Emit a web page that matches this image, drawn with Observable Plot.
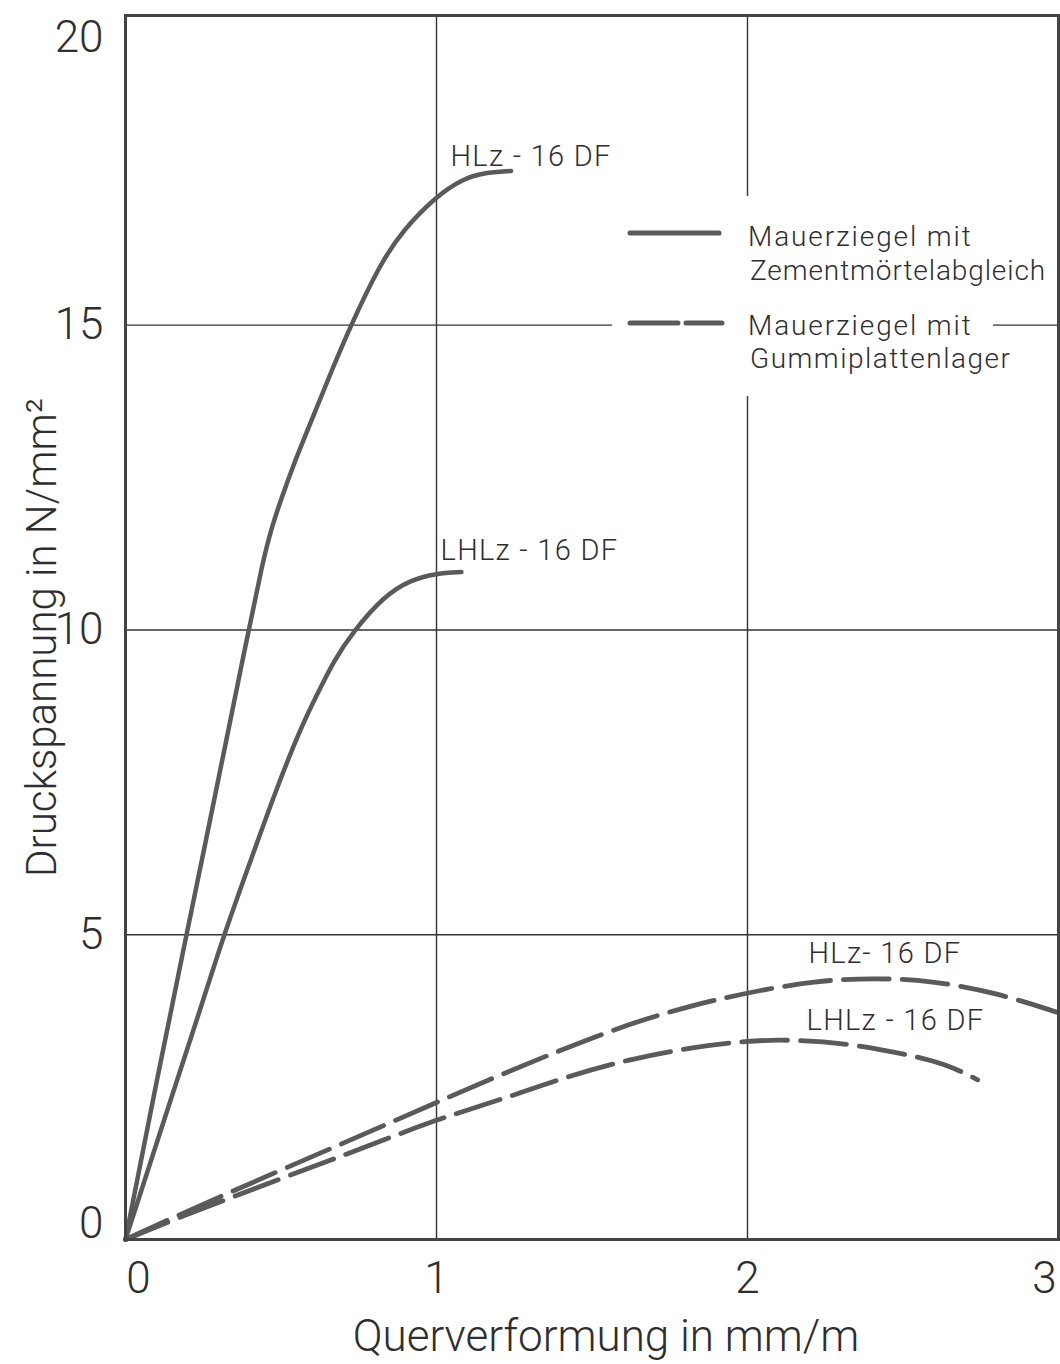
<!DOCTYPE html>
<html>
<head>
<meta charset="utf-8">
<script src="https://cdn.jsdelivr.net/npm/d3@7"></script>
<script src="https://cdn.jsdelivr.net/npm/@observablehq/plot@0.6"></script>
<style>
  html, body { margin: 0; padding: 0; background: #fff; }
  #wrap { position: relative; width: 1060px; height: 1364px; font-family: Roboto, "DejaVu Sans", sans-serif; color: #2e2e2e; }
  #legend { position: absolute; left: 612px; top: 196px; width: 381px; height: 200px; background: #fff; }
  #legend .t { position: absolute; font-size: 28px; letter-spacing: 1.9px; white-space: nowrap; line-height: 1; font-weight: 300; }
  #legend svg { position: absolute; left: 0; top: 0; overflow: visible; }
</style>
</head>
<body>
<div id="wrap"></div>
<script>
// ---- data ----
const hlzSolidX = [0, 0.10, 0.196, 0.257, 0.396, 0.44, 0.466, 0.504, 0.541, 0.584, 0.649, 0.72, 0.82, 0.894, 1.0, 1.085, 1.15, 1.24];
const hlzSolidY = [0, 2.6, 5.0, 6.5, 10.0, 11.08, 11.62, 12.2, 12.72, 13.26, 14.08, 14.95, 16.02, 16.57, 17.12, 17.40, 17.50, 17.53];

const lhlzSolidX = [0, 0.12, 0.239, 0.313, 0.402, 0.482, 0.563, 0.617, 0.669, 0.733, 0.83, 0.915, 1.0, 1.08];
const lhlzSolidY = [0, 1.9, 3.75, 4.95, 6.21, 7.35, 8.39, 8.95, 9.49, 9.98, 10.55, 10.82, 10.93, 10.95];

const hlzDashX = [0, 0.2, 0.5, 0.8, 1.0, 1.2, 1.41, 1.62, 1.82, 2.0, 2.22, 2.41, 2.59, 2.8, 3.0];
const hlzDashY = [0, 0.47, 1.14, 1.8, 2.25, 2.69, 3.13, 3.54, 3.84, 4.05, 4.25, 4.29, 4.25, 4.05, 3.72];

const lhlzDashX = [0, 0.2, 0.5, 0.8, 1.0, 1.2, 1.41, 1.62, 1.83, 2.0, 2.12, 2.31, 2.51, 2.64, 2.74];
const lhlzDashY = [0, 0.42, 1.0, 1.57, 1.97, 2.28, 2.66, 2.96, 3.16, 3.26, 3.28, 3.23, 3.04, 2.88, 2.62];

const xTicks = [0, 1, 2, 3];
const yTicks = [0, 5, 10, 15, 20];
const xGrid = [1, 2];
const yGrid = [5, 10, 15];

const curveLabels = ["HLz - 16 DF", "LHLz - 16 DF", "HLz- 16 DF", "LHLz - 16 DF"];
const curveLabelX = [1.045, 1.013, 2.196, 2.19];
const curveLabelY = [17.77, 11.3, 4.69, 3.59];

const xTitle = "Querverformung in mm/m";
const yTitle = "Druckspannung in N/mm²";
const legendLabels = [["Mauerziegel mit", "Zementmörtelabgleich"], ["Mauerziegel  mit", "Gummiplattenlager"]];

// ---- build ----
const toPts = (xs, ys) => xs.map((x, i) => ({x, y: ys[i]}));
const solid = [toPts(hlzSolidX, hlzSolidY), toPts(lhlzSolidX, lhlzSolidY)];
const dashed = [toPts(hlzDashX, hlzDashY), toPts(lhlzDashX, lhlzDashY)];
const labels = curveLabels.map((t, i) => ({t, x: curveLabelX[i], y: curveLabelY[i]}));

const lineColor = "#5a5a5a";
const inkColor = "#2e2e2e";
const font = "Roboto, 'DejaVu Sans', sans-serif";
const tickStyle = {fontSize: 44, fontWeight: 300, fill: inkColor};

const marks = [
  Plot.gridX(xGrid, {stroke: "#333", strokeOpacity: 1, strokeWidth: 1.4}),
  Plot.gridY(yGrid, {stroke: "#333", strokeOpacity: 1, strokeWidth: 1.4}),
  ...solid.map(d => Plot.line(d, {x: "x", y: "y", curve: "basis", stroke: lineColor, strokeWidth: 4.5, strokeLinecap: "round"})),
  ...dashed.map(d => Plot.line(d, {x: "x", y: "y", curve: "basis", stroke: lineColor, strokeWidth: 4.8, strokeLinecap: "round", strokeDasharray: "46,13"})),
  Plot.frame({stroke: "#444", strokeWidth: 3}),
  Plot.text(labels, {x: "x", y: "y", text: "t", textAnchor: "start", fontSize: 29, fontWeight: 300, fill: inkColor}),
  Plot.text(xTicks.filter(d => d > 0 && d < 3), {x: d => d, frameAnchor: "bottom", dy: 53, ...tickStyle}),
  Plot.text(xTicks.filter(d => d === 0), {x: d => d, frameAnchor: "bottom", dy: 53, dx: 13, ...tickStyle}),
  Plot.text(xTicks.filter(d => d === 3), {x: d => d, frameAnchor: "bottom", dy: 53, dx: -14, ...tickStyle}),
  Plot.text(yTicks.filter(d => d > 0 && d < 20), {y: d => d, frameAnchor: "left", dx: -22, textAnchor: "end", ...tickStyle}),
  Plot.text(yTicks.filter(d => d === 20), {y: d => d, frameAnchor: "left", dx: -22, dy: 18, textAnchor: "end", ...tickStyle}),
  Plot.text(yTicks.filter(d => d === 0), {y: d => d, frameAnchor: "left", dx: -22, dy: -16, textAnchor: "end", ...tickStyle}),
  Plot.text([xTitle], {frameAnchor: "bottom", dx: 14, dy: 111, fontSize: 44, fontWeight: 300, fill: inkColor}),
  Plot.text([yTitle], {frameAnchor: "left", textAnchor: "middle", dx: -83, dy: 10, rotate: -90, fontSize: 42, fontWeight: 300, fill: inkColor})
];

const chart = Plot.plot({
  width: 1060,
  height: 1364,
  marginLeft: 125,
  marginRight: 2,
  marginTop: 15,
  marginBottom: 125,
  x: {domain: [0, 3], axis: null},
  y: {domain: [0, 20.08], axis: null},
  style: {fontFamily: font, background: "#fff", overflow: "visible"},
  marks
});

// slightly wider letter spacing on the curve labels, as in the reference lettering
d3.select(chart).selectAll("text").filter(function() { return curveLabels.includes(this.textContent); })
  .style("letter-spacing", "1.3px");

const wrap = document.getElementById("wrap");
wrap.appendChild(chart);

// legend (knocks out the grid behind it, as in the reference)
const lg = document.createElement("div");
lg.id = "legend";
lg.innerHTML = `
  <svg width="381" height="200">
    <line x1="18" y1="37" x2="107" y2="37" stroke="${lineColor}" stroke-width="5" stroke-linecap="round"/>
    <line x1="18" y1="127" x2="110" y2="127" stroke="${lineColor}" stroke-width="5" stroke-linecap="round" stroke-dasharray="48,8"/>
  </svg>
  <div class="t" style="left:136px; top:27px;">${legendLabels[0][0]}</div>
  <div class="t" style="left:138px; top:61px; letter-spacing:0.9px;">${legendLabels[0][1]}</div>
  <div class="t" style="left:136px; top:116px;">${legendLabels[1][0]}</div>
  <div class="t" style="left:138px; top:149px; letter-spacing:1.5px;">${legendLabels[1][1]}</div>
`;
wrap.appendChild(lg);
</script>
</body>
</html>
